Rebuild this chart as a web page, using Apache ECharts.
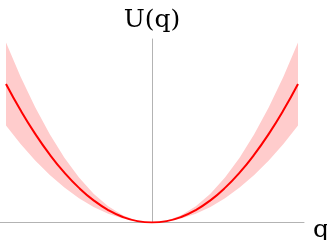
<!DOCTYPE html>
<html>
<head>
<meta charset="utf-8">
<script src="https://cdn.jsdelivr.net/npm/echarts@6/dist/echarts.min.js"></script>
<style>
html,body{margin:0;padding:0;background:#fff;overflow:hidden;}
#c{width:327px;height:240px;}
</style>
</head>
<body>
<div id="c"></div>
<script>
var qValues = [-1, -0.9, -0.8, -0.7, -0.6, -0.5, -0.4, -0.3, -0.2, -0.1, 0, 0.1, 0.2, 0.3, 0.4, 0.5, 0.6, 0.7, 0.8, 0.9, 1];
var uValues = [1, 0.81, 0.64, 0.49, 0.36, 0.25, 0.16, 0.09, 0.04, 0.01, 0, 0.01, 0.04, 0.09, 0.16, 0.25, 0.36, 0.49, 0.64, 0.81, 1];
var upperValues = [1.3, 1.053, 0.832, 0.637, 0.468, 0.325, 0.208, 0.117, 0.052, 0.013, 0, 0.013, 0.052, 0.117, 0.208, 0.325, 0.468, 0.637, 0.832, 1.053, 1.3];
var lowerValues = [0.7, 0.567, 0.448, 0.343, 0.252, 0.175, 0.112, 0.063, 0.028, 0.007, 0, 0.007, 0.028, 0.063, 0.112, 0.175, 0.252, 0.343, 0.448, 0.567, 0.7];
var xAxisName = 'q';
var yAxisName = 'U(q)';

var chart = echarts.init(document.getElementById('c'), null, {renderer: 'canvas'});
function pairs(ys) { return qValues.map(function (q, i) { return [q, ys[i]]; }); }
var axisColor = '#b3b3b3';
var font = 'DejaVu Serif';
chart.setOption({
  animation: false,
  tooltip: {show: false},
  grid: {left: 0, right: 23, top: 39, bottom: 17.5, containLabel: false, outerBoundsMode: 'none'},
  xAxis: {
    type: 'value', min: -1.0411, max: 1.0411, z: 2,
    axisLine: {show: true, onZero: false, lineStyle: {color: axisColor, width: 1}},
    axisTick: {show: false}, axisLabel: {show: false}, splitLine: {show: false},
    axisPointer: {show: false},
    name: xAxisName, nameLocation: 'end', nameGap: 9,
    nameTextStyle: {fontFamily: font, fontSize: 25, lineHeight: 16, color: '#000', verticalAlign: 'top'}
  },
  yAxis: {
    type: 'value', min: 0, max: 1.325, z: 2,
    axisLine: {show: true, onZero: true, lineStyle: {color: axisColor, width: 1}},
    axisTick: {show: false}, axisLabel: {show: false}, splitLine: {show: false},
    axisPointer: {show: false},
    name: yAxisName, nameLocation: 'end', nameGap: 6,
    nameTextStyle: {fontFamily: font, fontSize: 25, color: '#000', align: 'center'}
  },
  series: [
    {type: 'line', data: pairs(upperValues), symbol: 'none', silent: true, z: 0,
      lineStyle: {width: 0, opacity: 0}, areaStyle: {color: '#ffcccc', opacity: 1}},
    {type: 'line', data: pairs(lowerValues), symbol: 'none', silent: true, z: 1,
      lineStyle: {width: 0, opacity: 0}, areaStyle: {color: '#ffffff', opacity: 1}},
    {type: 'line', data: pairs(uValues), smooth: true, symbol: 'none', silent: true,
      lineStyle: {color: '#ff0000', width: 2}, z: 3}
  ]
});
</script>
</body>
</html>
